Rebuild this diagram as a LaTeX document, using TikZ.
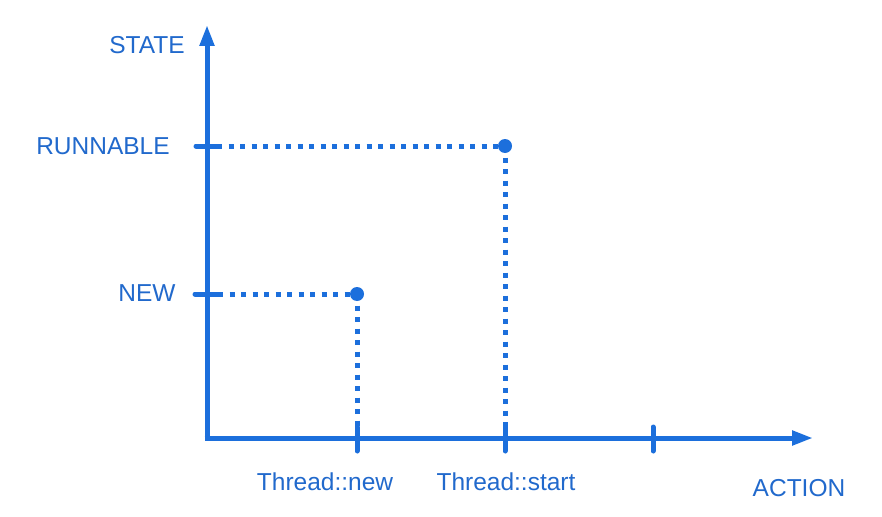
\documentclass[tikz,border=0pt]{standalone}
\usepackage{fontspec}
\setmainfont{Liberation Sans}
\usetikzlibrary{arrows.meta}
\definecolor{axisblue}{HTML}{1C6FDC}
\definecolor{textblue}{HTML}{2169CC}
\tikzset{
  axis/.style={draw=axisblue, line width=5pt, -{Triangle[length=21pt,width=14pt]}},
  tick/.style={draw=axisblue, line width=5pt, line cap=round},
  dotline/.style={draw=axisblue, line width=5pt, dash pattern=on 5pt off 6.5pt},
  lbl/.style={text=textblue, font=\fontsize{24.5}{27}\selectfont, inner sep=0pt},
  point/.style={circle, fill=axisblue, minimum size=14pt, inner sep=0pt}
}
\begin{document}
\begin{tikzpicture}[x=1pt,y=-1pt]
\useasboundingbox (0,0) rectangle (882,516);
\coordinate (O) at (207,440);
\coordinate (ytip) at (207,25);
\coordinate (xtip) at (813,438);
\draw[axis] (207,440.5) -- (ytip);
\draw[axis] (204.5,438) -- (xtip);
% y ticks
\coordinate (tr1) at (196,146); \coordinate (tr2) at (217,146);
\coordinate (tn1) at (195,294); \coordinate (tn2) at (218,294);
\draw[tick] (tr1) -- (tr2);
\draw[tick] (tn1) -- (tn2);
% x ticks
\coordinate (ta1) at (357,427); \coordinate (ta2) at (357,451);
\coordinate (tb1) at (505,427); \coordinate (tb2) at (505,451);
\coordinate (tc1) at (653,427); \coordinate (tc2) at (653,451);
\draw[tick] (ta1) -- (ta2);
\draw[tick] (tb1) -- (tb2);
\draw[tick] (tc1) -- (tc2);
% points
\node[point] (pnew) at (357,294) {};
\node[point] (prun) at (505,146) {};
\draw[dotline] (tn2) -- (pnew.center);
\draw[dotline] (pnew.center) -- (ta1);
\draw[dotline] (tr2) -- (prun.center);
\draw[dotline] (prun.center) -- (tb1);
% labels
\node[lbl] (state) at (147,45) {STATE};
\node[lbl] (runnable) at (103,146) {RUNNABLE};
\node[lbl] (new) at (147,293) {NEW};
\node[lbl] (tnew) at (325,482) {Thread::new};
\node[lbl] (tstart) at (506,482) {Thread::start};
\node[lbl] (action) at (799,488) {ACTION};
\end{tikzpicture}
\end{document}
